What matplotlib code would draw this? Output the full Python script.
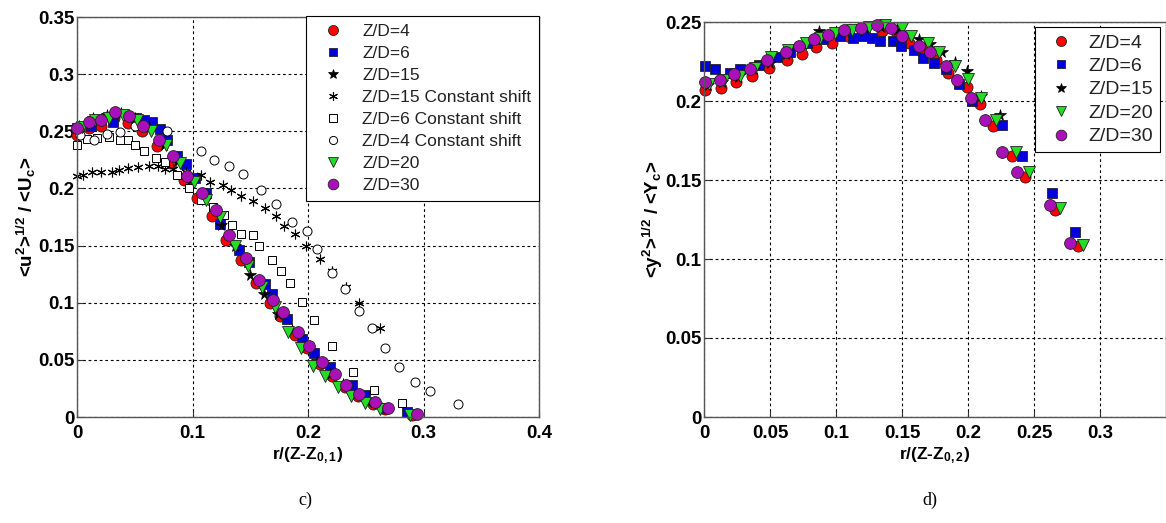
import numpy as np
import matplotlib
matplotlib.use('Agg')
import matplotlib.pyplot as plt

plt.rcParams['font.family'] = ['Liberation Sans', 'DejaVu Sans']
plt.rcParams['mathtext.fontset'] = 'custom'
plt.rcParams['mathtext.rm'] = 'Liberation Sans:bold'
plt.rcParams['mathtext.it'] = 'Liberation Sans:bold'
plt.rcParams['mathtext.bf'] = 'Liberation Sans:bold'
plt.rcParams['mathtext.default'] = 'rm'

#==== panel c) data ====#
c_r4 = [0.000, 0.010, 0.021, 0.032, 0.044, 0.056, 0.069, 0.081, 0.093, 0.104, 0.117, 0.129, 0.142,
        0.155, 0.167, 0.176, 0.189, 0.199, 0.210, 0.221, 0.232, 0.243, 0.256, 0.267, 0.290]
c_v4 = [0.247, 0.253, 0.255, 0.262, 0.257, 0.250, 0.237, 0.222, 0.207, 0.192, 0.176, 0.155, 0.137,
        0.117, 0.100, 0.088, 0.072, 0.060, 0.046, 0.036, 0.026, 0.018, 0.011, 0.007, 0.002]

c_r6 = [0.000, 0.012, 0.031, 0.051, 0.058, 0.065, 0.072, 0.078, 0.087, 0.094, 0.102, 0.112, 0.124,
        0.140, 0.149, 0.163, 0.169, 0.182, 0.195, 0.205, 0.219, 0.238, 0.249, 0.266, 0.286]
c_v6 = [0.253, 0.255, 0.258, 0.262, 0.260, 0.258, 0.252, 0.242, 0.228, 0.221, 0.209, 0.196, 0.169,
        0.146, 0.136, 0.116, 0.108, 0.086, 0.068, 0.056, 0.044, 0.028, 0.019, 0.008, 0.004]

c_r15 = [0.002, 0.014, 0.026, 0.038, 0.050, 0.062, 0.075, 0.087, 0.099, 0.111, 0.125, 0.137, 0.150,
         0.162, 0.174, 0.186, 0.197, 0.208, 0.219, 0.230, 0.241, 0.252, 0.264]
c_v15 = [0.255, 0.262, 0.264, 0.266, 0.262, 0.254, 0.238, 0.224, 0.208, 0.190, 0.168, 0.150, 0.124,
         0.108, 0.090, 0.076, 0.062, 0.049, 0.038, 0.029, 0.020, 0.013, 0.008]

c_r15s = [0.000, 0.005, 0.013, 0.021, 0.030, 0.036, 0.044, 0.053, 0.062, 0.070, 0.076, 0.083, 0.094,
          0.107, 0.115, 0.126, 0.133, 0.142, 0.152, 0.163, 0.172, 0.179, 0.189, 0.198, 0.210, 0.221,
          0.233, 0.244, 0.262]
c_v15s = [0.211, 0.212, 0.214, 0.214, 0.214, 0.216, 0.218, 0.219, 0.220, 0.220, 0.217, 0.217, 0.214,
          0.212, 0.206, 0.203, 0.199, 0.193, 0.189, 0.183, 0.176, 0.167, 0.160, 0.150, 0.138, 0.128,
          0.114, 0.100, 0.078]

c_r6s = [0.000, 0.009, 0.017, 0.028, 0.037, 0.044, 0.050, 0.058, 0.068, 0.076, 0.087, 0.097, 0.107,
         0.118, 0.127, 0.134, 0.142, 0.152, 0.158, 0.169, 0.177, 0.184, 0.195, 0.205, 0.221, 0.239,
         0.257, 0.281]
c_v6s = [0.238, 0.243, 0.244, 0.245, 0.242, 0.242, 0.238, 0.233, 0.227, 0.223, 0.212, 0.200, 0.190,
         0.184, 0.177, 0.168, 0.160, 0.159, 0.150, 0.137, 0.128, 0.117, 0.101, 0.085, 0.062, 0.039,
         0.024, 0.012]

c_r4s = [0.003, 0.015, 0.026, 0.037, 0.050, 0.078, 0.107, 0.119, 0.132, 0.144, 0.159, 0.172, 0.186,
         0.199, 0.208, 0.221, 0.232, 0.244, 0.255, 0.267, 0.279, 0.293, 0.306, 0.330]
c_v4s = [0.247, 0.242, 0.248, 0.249, 0.255, 0.250, 0.233, 0.225, 0.220, 0.213, 0.199, 0.186, 0.171,
         0.163, 0.147, 0.126, 0.112, 0.093, 0.078, 0.060, 0.044, 0.031, 0.023, 0.011]

c_r20 = [0.004, 0.016, 0.028, 0.040, 0.052, 0.064, 0.077, 0.089, 0.101, 0.112, 0.124, 0.137, 0.148,
         0.160, 0.171, 0.183, 0.194, 0.204, 0.215, 0.226, 0.237, 0.249, 0.262, 0.288]
c_v20 = [0.254, 0.260, 0.262, 0.264, 0.260, 0.250, 0.238, 0.222, 0.206, 0.190, 0.175, 0.150, 0.132,
         0.114, 0.096, 0.074, 0.060, 0.045, 0.036, 0.026, 0.018, 0.012, 0.007, 0.002]

c_r30 = [0.000, 0.010, 0.021, 0.033, 0.045, 0.057, 0.071, 0.083, 0.095, 0.108, 0.120, 0.132, 0.146,
         0.158, 0.170, 0.178, 0.191, 0.201, 0.212, 0.223, 0.233, 0.244, 0.258, 0.269, 0.294]
c_v30 = [0.253, 0.258, 0.260, 0.267, 0.263, 0.255, 0.242, 0.228, 0.211, 0.196, 0.181, 0.159, 0.139,
         0.120, 0.102, 0.092, 0.074, 0.062, 0.048, 0.038, 0.028, 0.020, 0.013, 0.008, 0.003]

#==== panel d) data ====#
d_r4 = [0.001, 0.013, 0.024, 0.036, 0.049, 0.063, 0.074, 0.085, 0.097, 0.109, 0.122, 0.135, 0.146,
        0.155, 0.166, 0.176, 0.185, 0.199, 0.209, 0.219, 0.233, 0.243, 0.266, 0.283]
d_v4 = [0.207, 0.208, 0.212, 0.216, 0.221, 0.226, 0.230, 0.234, 0.237, 0.241, 0.242, 0.244, 0.241,
        0.237, 0.233, 0.226, 0.218, 0.209, 0.198, 0.184, 0.165, 0.152, 0.131, 0.108]

d_r6 = [0.001, 0.008, 0.020, 0.027, 0.042, 0.055, 0.065, 0.078, 0.090, 0.103, 0.113, 0.120, 0.127,
        0.133, 0.143, 0.149, 0.159, 0.166, 0.174, 0.183, 0.193, 0.203, 0.2255, 0.241, 0.264, 0.281]
d_v6 = [0.222, 0.220, 0.218, 0.220, 0.223, 0.228, 0.231, 0.237, 0.239, 0.241, 0.240, 0.241, 0.240,
        0.238, 0.238, 0.235, 0.232, 0.227, 0.224, 0.220, 0.211, 0.200, 0.185, 0.165, 0.142, 0.117]

d_r15 = [0.003, 0.014, 0.026, 0.038, 0.050, 0.062, 0.075, 0.087, 0.098, 0.110, 0.122, 0.134, 0.146,
         0.163, 0.171, 0.180, 0.190, 0.199, 0.210, 0.224]
d_v15 = [0.210, 0.212, 0.215, 0.220, 0.224, 0.230, 0.236, 0.244, 0.243, 0.245, 0.246, 0.247, 0.245,
         0.239, 0.236, 0.231, 0.225, 0.219, 0.203, 0.191]

d_r20 = [0.004, 0.015, 0.027, 0.039, 0.051, 0.064, 0.077, 0.088, 0.099, 0.112, 0.125, 0.137, 0.150,
         0.157, 0.170, 0.178, 0.190, 0.200, 0.210, 0.221, 0.236, 0.246, 0.270, 0.287]
d_v20 = [0.211, 0.213, 0.216, 0.221, 0.228, 0.232, 0.237, 0.240, 0.243, 0.245, 0.247, 0.248, 0.246,
         0.241, 0.237, 0.231, 0.222, 0.214, 0.202, 0.188, 0.168, 0.155, 0.132, 0.109]

d_r30 = [0.001, 0.012, 0.023, 0.035, 0.048, 0.062, 0.072, 0.083, 0.094, 0.106, 0.119, 0.131, 0.142,
         0.150, 0.163, 0.171, 0.183, 0.192, 0.202, 0.213, 0.226, 0.237, 0.262, 0.277]
d_v30 = [0.212, 0.213, 0.217, 0.220, 0.226, 0.231, 0.235, 0.239, 0.242, 0.245, 0.246, 0.248, 0.246,
         0.241, 0.235, 0.231, 0.222, 0.213, 0.202, 0.188, 0.168, 0.155, 0.134, 0.110]

c_xticks = [0, 0.1, 0.2, 0.3, 0.4]
c_xlabels = ['0', '0.1', '0.2', '0.3', '0.4']
c_yticks = [0, 0.05, 0.1, 0.15, 0.2, 0.25, 0.3, 0.35]
c_ylabels = ['0', '0.05', '0.1', '0.15', '0.2', '0.25', '0.3', '0.35']
d_xticks = [0, 0.05, 0.1, 0.15, 0.2, 0.25, 0.3]
d_xlabels = ['0', '0.05', '0.1', '0.15', '0.2', '0.25', '0.3']
d_yticks = [0, 0.05, 0.1, 0.15, 0.2, 0.25]
d_ylabels = ['0', '0.05', '0.1', '0.15', '0.2', '0.25']


def style_axes(ax, xt, xl, yt, yl):
	''' matlab-ish axes look '''
	ax.set_xticks(xt)
	ax.set_xticklabels(xl)
	ax.set_yticks(yt)
	ax.set_yticklabels(yl)
	ax.tick_params(direction='in', length=4, width=0.8, labelsize=13.5, colors='#333333',
	               labelcolor='black')
	ax.tick_params(axis='y', pad=2)
	ax.tick_params(axis='x', pad=6)
	for lab in ax.get_xticklabels() + ax.get_yticklabels():
		lab.set_fontweight('bold')
	ax.grid(True, color='black', linestyle=(0, (2.5, 2.5)), linewidth=0.8)
	ax.set_axisbelow(True)
	for s in ax.spines.values():
		s.set_color('#555555')
		s.set_linewidth(1.0)


def dots(ax, x, y, **kw):
	''' scatter-like plot with markers allowed past the axes edge '''
	ax.plot(x, y, ls='none', clip_on=False, **kw)


fig = plt.figure(figsize=(11.66, 5.23), dpi=100)
ax1 = fig.add_axes([77/1166, 106/523, 462/1166, 400/523])
ax2 = fig.add_axes([704/1166, 106/523, 462/1166, 395/523])

ek = '#222222'
dots(ax1, c_r4, c_v4, marker='o', ms=8, mfc='red', mec=ek, mew=0.6, label='Z/D=4')
dots(ax1, c_r6, c_v6, marker='s', ms=7, mfc='#0000dd', mec=ek, mew=0.6, label='Z/D=6')
dots(ax1, c_r15, c_v15, marker='*', ms=8.5, mfc='black', mec='black', mew=0.5, label='Z/D=15')
dots(ax1, c_r15s, c_v15s, marker=(6, 2, 0), ms=7, mec='black', mew=0.8,
     label='Z/D=15 Constant shift')
dots(ax1, c_r6s, c_v6s, marker='s', ms=6, mfc='white', mec='black', mew=0.7, label='Z/D=6 Constant shift')
dots(ax1, c_r4s, c_v4s, marker='o', ms=6.5, mfc='white', mec='black', mew=0.7, label='Z/D=4 Constant shift')
dots(ax1, c_r20, c_v20, marker='v', ms=8, mfc='#22dd22', mec=ek, mew=0.6, label='Z/D=20')
dots(ax1, c_r30, c_v30, marker='o', ms=8.5, mfc='#aa10b8', mec=ek, mew=0.6, label='Z/D=30')

ax1.set_xlim(0, 0.4)
ax1.set_ylim(0, 0.35)
style_axes(ax1, c_xticks, c_xlabels, c_yticks, c_ylabels)
ax1.set_xlabel(r'r/(Z-Z$_{0,1}$)', fontsize=12.5, fontweight='bold', labelpad=2)
ax1.set_ylabel(r'<u$^2$>$^{1/2}$ / <U$_c$>', fontsize=13.5, fontweight='bold', labelpad=0)
leg1 = ax1.legend(loc='upper right', bbox_to_anchor=(1.0, 1.003), borderaxespad=0, fontsize=12.5,
                  fancybox=False, framealpha=1, edgecolor='black', handletextpad=0.6,
                  handlelength=2.2, labelspacing=0.4, borderpad=0.45, markerscale=0.9)
leg1.get_frame().set_linewidth(0.8)
for t in leg1.get_texts():
	t.set_color('#222222')

dots(ax2, d_r4, d_v4, marker='o', ms=8, mfc='red', mec=ek, mew=0.6, label='Z/D=4')
dots(ax2, d_r6, d_v6, marker='s', ms=7, mfc='#0000dd', mec=ek, mew=0.6, label='Z/D=6')
dots(ax2, d_r15, d_v15, marker='*', ms=8.5, mfc='black', mec='black', mew=0.5, label='Z/D=15')
dots(ax2, d_r20, d_v20, marker='v', ms=8, mfc='#22dd22', mec=ek, mew=0.6, label='Z/D=20')
dots(ax2, d_r30, d_v30, marker='o', ms=8.5, mfc='#aa10b8', mec=ek, mew=0.6, label='Z/D=30')

ax2.set_xlim(0, 0.35)
ax2.set_ylim(0, 0.25)
style_axes(ax2, d_xticks, d_xlabels, d_yticks, d_ylabels)
ax2.set_xlabel(r'r/(Z-Z$_{0,2}$)', fontsize=12.5, fontweight='bold', labelpad=2)
ax2.set_ylabel(r'<y$^2$>$^{1/2}$ / <Y$_c$>', fontsize=13.5, fontweight='bold', labelpad=0)
leg2 = ax2.legend(loc='upper left', bbox_to_anchor=(0.716, 0.987), borderaxespad=0, fontsize=14,
                  fancybox=False, framealpha=1, edgecolor='black', handletextpad=0.4,
                  handlelength=2.0, labelspacing=0.3, borderpad=0.35, markerscale=0.9)
leg2.get_frame().set_linewidth(0.8)
for t in leg2.get_texts():
	t.set_color('#222222')

fig.text(305/1166, 1 - 500/523, 'c)', fontsize=13, family='Liberation Serif', ha='center', va='center')
fig.text(930/1166, 1 - 500/523, 'd)', fontsize=13, family='Liberation Serif', ha='center', va='center')

plt.savefig('out.png', dpi=100)
